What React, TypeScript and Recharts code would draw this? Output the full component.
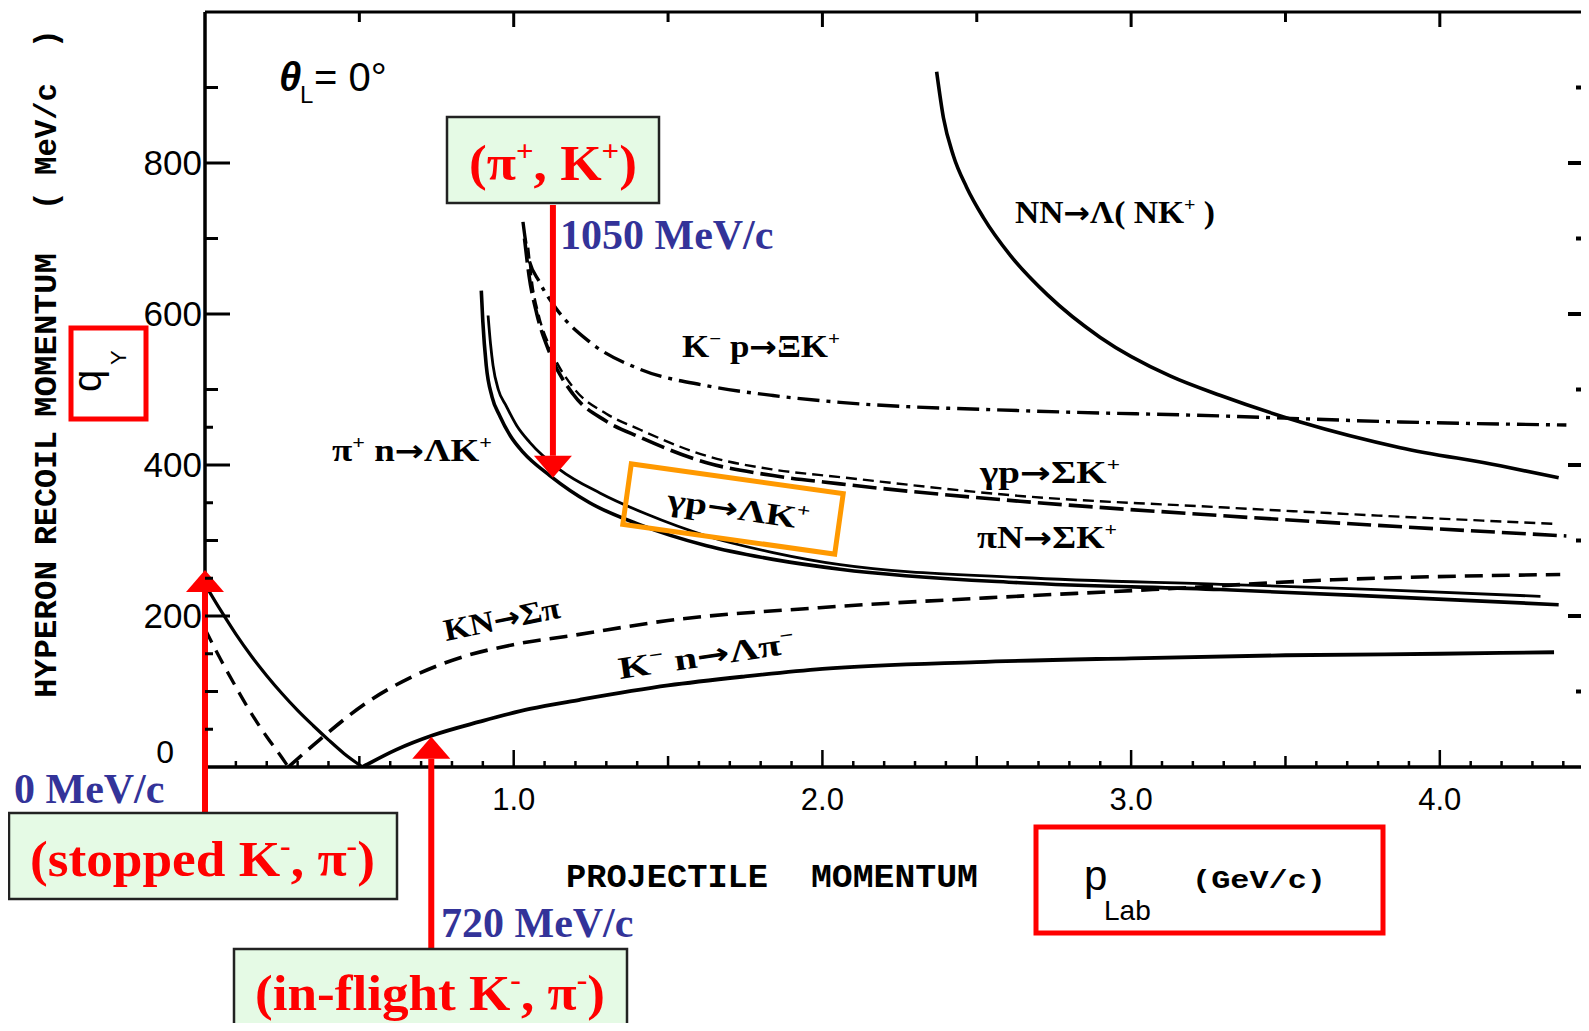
import React from 'react';
import { LineChart, Line, XAxis, YAxis, ReferenceDot } from 'recharts';

const W = 1589;
const H = 1031;

// ---------- axis ticks ----------
const xTicks = [0, 0.1, 0.2, 0.3, 0.4, 0.5, 0.6, 0.7, 0.8, 0.9, 1, 1.1, 1.2, 1.3, 1.4, 1.5, 1.6, 1.7, 1.8, 1.9, 2, 2.1, 2.2, 2.3, 2.4, 2.5, 2.6, 2.7, 2.8, 2.9, 3, 3.1, 3.2, 3.3, 3.4, 3.5, 3.6, 3.7, 3.8, 3.9, 4, 4.1, 4.2, 4.3, 4.4];
const xLabelValues = [1, 2, 3, 4];
const xTickLabels = ['1.0', '2.0', '3.0', '4.0'];
const topTicks = [0.5, 1, 1.5, 2, 2.5, 3, 3.5, 4];
const yTicks = [0, 50, 100, 150, 200, 250, 300, 350, 400, 450, 500, 600, 700, 800, 900];
const yLabelValues = [0, 200, 400, 600, 800];
const yTickLabels = ['0', '200', '400', '600', '800'];
const rightTicks = [100, 200, 300, 400, 500, 600, 700, 800, 900];

// ---------- series (p in GeV/c, q in MeV/c) ----------
const kmnLamPiDescP = [0, 0.05, 0.1, 0.15, 0.2, 0.25, 0.3, 0.35, 0.4, 0.45, 0.51];
const kmnLamPiDescQ = [242, 208, 176, 147, 121, 97, 75, 55, 36, 18, 0];
const kmnLamPiAscP = [0.51, 0.62, 0.738, 0.89, 1.052, 1.214, 1.5, 1.75, 2.0, 2.5, 3.0, 3.5, 4.0, 4.37];
const kmnLamPiAscQ = [0, 23, 42, 60, 77, 89, 108, 120, 130, 139, 144, 148, 150, 152];

const kbarSigPiDescP = [0, 0.05, 0.1, 0.15, 0.2, 0.25, 0.27];
const kbarSigPiDescQ = [183, 143, 106, 71, 40, 12, 0];
const kbarSigPiAscP = [0.27, 0.371, 0.523, 0.673, 0.836, 0.998, 1.203, 1.5, 1.99, 2.532, 3.07, 3.656, 4.39];
const kbarSigPiAscQ = [0, 36, 85, 120, 146, 162, 175, 194, 211, 224, 235, 248, 255];

const piLamKP = [0.895, 0.9, 0.911, 0.93, 0.955, 0.99, 1.03, 1.117, 1.246, 1.408, 1.625, 1.84, 2.057, 2.64, 3.29, 3.8, 4.385];
const piLamKQ = [631, 590, 532, 490, 465, 438, 417, 386, 350, 321, 293, 275, 262, 244, 235, 226, 215];

const gamLamKP = [0.917, 0.925, 0.933, 0.95, 0.976, 1.01, 1.052, 1.149, 1.279, 1.43, 1.625, 1.84, 2.057, 2.64, 3.29, 3.8, 4.326];
const gamLamKQ = [598, 560, 532, 500, 478, 452, 430, 394, 363, 335, 306, 284, 268, 251, 242, 235, 226];

const kmpXiKP = [1.03, 1.046, 1.084, 1.138, 1.246, 1.408, 1.625, 1.84, 2.057, 2.64, 3.29, 3.872, 4.41];
const kmpXiKQ = [722, 678, 642, 607, 563, 527, 505, 492, 483, 472, 465, 457, 453];

const gamSigKP = [1.047, 1.06, 1.08, 1.117, 1.192, 1.3, 1.408, 1.625, 1.84, 2.057, 2.64, 3.29, 3.8, 4.37];
const gamSigKQ = [688, 640, 600, 556, 503, 468, 447, 412, 394, 384, 359, 344, 333, 322];

const piSigKP = [1.035, 1.05, 1.075, 1.117, 1.192, 1.3, 1.408, 1.625, 1.84, 2.057, 2.64, 3.29, 3.8, 4.41];
const piSigKQ = [700, 650, 600, 548, 494, 458, 437, 403, 386, 375, 352, 333, 320, 306];

const nnLamNKP = [2.37, 2.392, 2.424, 2.467, 2.521, 2.608, 2.73, 2.9, 3.126, 3.29, 3.548, 3.872, 4.196, 4.385];
const nnLamNKQ = [921, 860, 810, 768, 728, 678, 625, 569, 518, 492, 457, 423, 399, 383];

// arrow tips (data coords): stopped, in-flight, (pi+,K+)
const arrowP = [0, 0.733, 1.127];
const arrowQ = [261, 40, 383];

const toData = (p: number[], q: number[]) => p.map((x, i) => ({ p: x, q: q[i] }));

const SANS = "'Liberation Sans', Arial, sans-serif";
const SERIF = "'Liberation Serif', 'Times New Roman', serif";
const MONO = "'Liberation Mono', 'DejaVu Sans Mono', monospace";

const near = (a: number, b: number) => Math.abs(a - b) < 1e-6;

const BottomTick = (props: any) => {
  const { x, y, payload } = props;
  const v = payload.value;
  const major = near(v, Math.round(v));
  const half = near(v * 2, Math.round(v * 2));
  const len = major ? 17 : half ? 11 : 6;
  const idx = xLabelValues.findIndex((a) => near(a, v));
  return (
    <g>
      {v > 0 && <line x1={x} x2={x} y1={y} y2={y - len} stroke="#000" strokeWidth={2.5} />}
      {idx >= 0 && (
        <text x={x} y={y + 43} textAnchor="middle" fontFamily={SANS} fontSize={31} fill="#000">
          {xTickLabels[idx]}
        </text>
      )}
    </g>
  );
};

const TopTick = (props: any) => {
  const { x, y, payload } = props;
  const v = payload.value;
  const len = near(v, Math.round(v)) ? 15 : 10;
  return <line x1={x} x2={x} y1={y} y2={y + len} stroke="#000" strokeWidth={3} />;
};

const LeftTick = (props: any) => {
  const { x, y, payload } = props;
  const v = payload.value;
  const len = v % 200 === 0 ? 25 : v % 100 === 0 ? 13 : 8;
  const idx = yLabelValues.indexOf(v);
  return (
    <g>
      {v > 0 && <line x1={x} x2={x + len} y1={y} y2={y} stroke="#000" strokeWidth={3} />}
      {idx >= 0 && (
        <text
          x={v === 0 ? x - 31 : x - 3}
          y={v === 0 ? y - 4 : y + 12}
          textAnchor="end"
          fontFamily={SANS}
          fontSize={v === 0 ? 32 : 35}
          fill="#000"
        >
          {yTickLabels[idx]}
        </text>
      )}
    </g>
  );
};

const RightTick = (props: any) => {
  const { x, y, payload } = props;
  const v = payload.value;
  const len = v % 200 === 0 ? 20 : 12;
  return <line x1={x} x2={x - len} y1={y} y2={y} stroke="#000" strokeWidth={4} />;
};

const arrowShape = (tailY: number, dir: 'up' | 'down') => (p: any) => {
  const { cx, cy } = p;
  const hh = 22;
  const hw = 19;
  const base = dir === 'up' ? cy + hh : cy - hh;
  return (
    <g>
      <line x1={cx} x2={cx} y1={tailY} y2={base} stroke="#FF0000" strokeWidth={6} />
      <polygon points={`${cx},${cy} ${cx - hw},${base} ${cx + hw},${base}`} fill="#FF0000" />
    </g>
  );
};

type Part = [string, ('sup' | 'sub' | 'arr')?];

const Rich = ({ x, y, parts, size, rise = 0.4, scale = 0.6, ...rest }: any) => {
  let shift = 0;
  const spans = (parts as Part[]).map(([t, k], i) => {
    const target = k === 'sup' ? -size * rise : k === 'sub' ? size * 0.3 : 0;
    const dy = target - shift;
    shift = target;
    if (k === 'arr') {
      return (
        <tspan key={i} dy={dy} fontFamily="'DejaVu Sans', sans-serif" fontWeight={700} fontSize={size * 0.95}>
          {t}
        </tspan>
      );
    }
    return (
      <tspan key={i} dy={dy} fontSize={k ? size * scale : size}>
        {t}
      </tspan>
    );
  });
  return (
    <text x={x} y={y} fontSize={size} style={{ whiteSpace: 'pre' }} {...rest}>
      {spans}
    </text>
  );
};

const lineCommon = {
  dataKey: 'q',
  type: 'monotone' as const,
  stroke: '#000',
  dot: false,
  activeDot: false,
  isAnimationActive: false,
};

export default function App() {
  const green = '#E5FAE5';
  const blue = '#333399';
  const red = '#FF0000';
  const reactionFont = { fontFamily: SERIF, fontWeight: 700, fill: '#000' };
  return (
    <div style={{ position: 'relative', width: W, height: H, margin: -8, overflow: 'hidden', background: '#fff' }}>
      <LineChart width={W} height={H} margin={{ top: 11, right: 0, bottom: 263, left: 204 }}>
        <XAxis
          dataKey="p"
          type="number"
          domain={[0, 4.48]}
          allowDataOverflow
          ticks={xTicks}
          interval={0}
          tick={BottomTick}
          tickLine={false}
          tickSize={0}
          tickMargin={0}
          height={1}
          axisLine={{ stroke: '#000', strokeWidth: 3.5 }}
        />
        <XAxis
          xAxisId="top"
          orientation="top"
          dataKey="p"
          type="number"
          domain={[0, 4.48]}
          allowDataOverflow
          ticks={topTicks}
          interval={0}
          tick={TopTick}
          tickLine={false}
          tickSize={0}
          tickMargin={0}
          height={1}
          axisLine={{ stroke: '#000', strokeWidth: 3 }}
        />
        <YAxis
          type="number"
          domain={[0, 1000]}
          allowDataOverflow
          ticks={yTicks}
          interval={0}
          tick={LeftTick}
          tickLine={false}
          tickSize={0}
          tickMargin={0}
          width={1}
          axisLine={{ stroke: '#000', strokeWidth: 3.5 }}
        />
        <YAxis
          yAxisId="right"
          orientation="right"
          type="number"
          domain={[0, 1000]}
          allowDataOverflow
          ticks={rightTicks}
          interval={0}
          tick={RightTick}
          tickLine={false}
          tickSize={0}
          tickMargin={0}
          width={1}
          axisLine={false}
        />

        <Line {...lineCommon} data={toData(kmnLamPiDescP, kmnLamPiDescQ)} strokeWidth={3.2} />
        <Line {...lineCommon} data={toData(kmnLamPiAscP, kmnLamPiAscQ)} strokeWidth={3.8} />
        <Line {...lineCommon} data={toData(kbarSigPiDescP, kbarSigPiDescQ)} strokeWidth={3.3} strokeDasharray="15 9" />
        <Line {...lineCommon} data={toData(kbarSigPiAscP, kbarSigPiAscQ)} strokeWidth={3.6} strokeDasharray="18 9" />
        <Line {...lineCommon} data={toData(piLamKP, piLamKQ)} strokeWidth={3.6} />
        <Line {...lineCommon} data={toData(gamLamKP, gamLamKQ)} strokeWidth={2.8} />
        <Line {...lineCommon} data={toData(kmpXiKP, kmpXiKQ)} strokeWidth={3.4} strokeDasharray="22 7 4 7" />
        <Line {...lineCommon} data={toData(gamSigKP, gamSigKQ)} strokeWidth={2.4} strokeDasharray="11 6" />
        <Line {...lineCommon} data={toData(piSigKP, piSigKQ)} strokeWidth={3.6} strokeDasharray="24 7" />
        <Line {...lineCommon} data={toData(nnLamNKP, nnLamNKQ)} strokeWidth={3.6} />

        <ReferenceDot x={arrowP[0]} y={arrowQ[0]} r={0} ifOverflow="visible" shape={arrowShape(814, 'up')} />
        <ReferenceDot x={arrowP[1]} y={arrowQ[1]} r={0} ifOverflow="visible" shape={arrowShape(949, 'up')} />
        <ReferenceDot x={arrowP[2]} y={arrowQ[2]} r={0} ifOverflow="visible" shape={arrowShape(205, 'down')} />
      </LineChart>

      <svg width={W} height={H} style={{ position: 'absolute', left: 0, top: 0, pointerEvents: 'none' }}>
        {/* y axis title */}
        <g fontFamily={MONO} fontWeight={700} fontSize={31} fill="#000">
          <text transform="translate(56,698) rotate(-90)" textLength={137} lengthAdjust="spacingAndGlyphs">HYPERON</text>
          <text transform="translate(56,545) rotate(-90)" textLength={114} lengthAdjust="spacingAndGlyphs">RECOIL</text>
          <text transform="translate(56,417) rotate(-90)" textLength={164} lengthAdjust="spacingAndGlyphs">MOMENTUM</text>
          <text transform="translate(56,210) rotate(-90)">(</text>
          <text transform="translate(56,175) rotate(-90)" textLength={92} lengthAdjust="spacingAndGlyphs">MeV/c</text>
          <text transform="translate(56,48) rotate(-90)">)</text>
        </g>

        {/* x axis title */}
        <g fontFamily={MONO} fontWeight={700} fontSize={34} fill="#000">
          <text x={566} y={887} textLength={202} lengthAdjust="spacingAndGlyphs">PROJECTILE</text>
          <text x={811} y={887} textLength={167} lengthAdjust="spacingAndGlyphs">MOMENTUM</text>
        </g>

        {/* theta label */}
        <text x={279} y={91} fontFamily={SANS} fontStyle="italic" fontWeight={700} fontSize={40} fill="#000">θ</text>
        <text x={300} y={103} fontFamily={SANS} fontSize={24} fill="#000">L</text>
        <text x={314} y={91} fontFamily={SANS} fontSize={40} fill="#000" style={{ whiteSpace: 'pre' }}>= 0°</text>

        {/* q_Y red box */}
        <rect x={71} y={328} width={75} height={91} fill="none" stroke={red} strokeWidth={5} />
        <text transform="translate(101,392) rotate(-90)" fontFamily={SANS} fontSize={40} fill="#000">q</text>
        <text transform="translate(126,365) rotate(-90)" fontFamily={SANS} fontSize={22} fill="#000">Y</text>

        {/* p_Lab red box */}
        <rect x={1036} y={827} width={347} height={106} fill="none" stroke={red} strokeWidth={5} />
        <text x={1084} y={890} fontFamily={SANS} fontSize={42} fill="#000">p</text>
        <text x={1104} y={920} fontFamily={SANS} fontSize={28} fill="#000">Lab</text>
        <text x={1192} y={888} fontFamily={MONO} fontWeight={700} fontSize={26} fill="#000" textLength={134} lengthAdjust="spacingAndGlyphs">(GeV/c)</text>

        {/* reaction labels */}
        <Rich x={1015} y={223} size={31} textLength={200} lengthAdjust="spacingAndGlyphs" {...reactionFont}
          parts={[['NN'], ['→', 'arr'], ['Λ( NK'], ['+', 'sup'], [' )']]} />
        <Rich x={682} y={357} size={31} textLength={158} lengthAdjust="spacingAndGlyphs" {...reactionFont}
          parts={[['K'], ['−', 'sup'], [' p'], ['→', 'arr'], ['ΞK'], ['+', 'sup']]} />
        <Rich x={332} y={461} size={31} textLength={160} lengthAdjust="spacingAndGlyphs" {...reactionFont}
          parts={[['π'], ['+', 'sup'], [' n'], ['→', 'arr'], ['ΛK'], ['+', 'sup']]} />
        <Rich x={980} y={483} size={31} textLength={140} lengthAdjust="spacingAndGlyphs" {...reactionFont}
          parts={[['γp'], ['→', 'arr'], ['ΣK'], ['+', 'sup']]} />
        <Rich x={977} y={548} size={31} textLength={140} lengthAdjust="spacingAndGlyphs" {...reactionFont}
          parts={[['πN'], ['→', 'arr'], ['ΣK'], ['+', 'sup']]} />
        <g transform="translate(446,641) rotate(-11.5)">
          <Rich x={0} y={0} size={31} textLength={118} lengthAdjust="spacingAndGlyphs" {...reactionFont}
            parts={[['KN'], ['→', 'arr'], ['Σπ']]} />
        </g>
        <g transform="translate(620,679) rotate(-8.5)">
          <Rich x={0} y={0} size={31} textLength={178} lengthAdjust="spacingAndGlyphs" {...reactionFont}
            parts={[['K'], ['−', 'sup'], [' n'], ['→', 'arr'], ['Λπ'], ['−', 'sup']]} />
        </g>

        {/* orange highlighted label */}
        <g transform="translate(733,509) rotate(8)">
          <rect x={-107} y={-30.5} width={214} height={61} fill="none" stroke="#FF9900" strokeWidth={5} />
          <Rich x={-66} y={10} size={31} textLength={143} lengthAdjust="spacingAndGlyphs" {...reactionFont}
            parts={[['γp'], ['→', 'arr'], ['ΛK'], ['+', 'sup']]} />
        </g>

        {/* (pi+, K+) box */}
        <rect x={447} y={117} width={212} height={86} fill={green} stroke="#222" strokeWidth={2.5} />
        <Rich x={469} y={180} size={50} rise={0.38} scale={0.58} fontFamily={SERIF} fontWeight={700} fill={red}
          textLength={168} lengthAdjust="spacingAndGlyphs"
          parts={[['(π'], ['+', 'sup'], [', K'], ['+', 'sup'], [')']]} />
        <text x={560} y={249} fontFamily={SERIF} fontWeight={700} fontSize={42} fill={blue}>1050 MeV/c</text>

        {/* stopped box */}
        <rect x={9} y={813} width={388} height={86} fill={green} stroke="#222" strokeWidth={2.5} />
        <Rich x={30} y={876} size={50} rise={0.4} scale={0.6} fontFamily={SERIF} fontWeight={700} fill={red}
          textLength={345} lengthAdjust="spacingAndGlyphs"
          parts={[['(stopped K'], ['-', 'sup'], [', π'], ['-', 'sup'], [')']]} />
        <text x={14} y={803} fontFamily={SERIF} fontWeight={700} fontSize={42} fill={blue}>0 MeV/c</text>

        {/* in-flight box */}
        <rect x={234} y={949} width={393} height={100} fill={green} stroke="#222" strokeWidth={2.5} />
        <Rich x={255} y={1010} size={50} rise={0.4} scale={0.6} fontFamily={SERIF} fontWeight={700} fill={red}
          textLength={350} lengthAdjust="spacingAndGlyphs"
          parts={[['(in-flight K'], ['-', 'sup'], [', π'], ['-', 'sup'], [')']]} />
        <text x={441} y={937} fontFamily={SERIF} fontWeight={700} fontSize={42} fill={blue}>720 MeV/c</text>
      </svg>
    </div>
  );
}
